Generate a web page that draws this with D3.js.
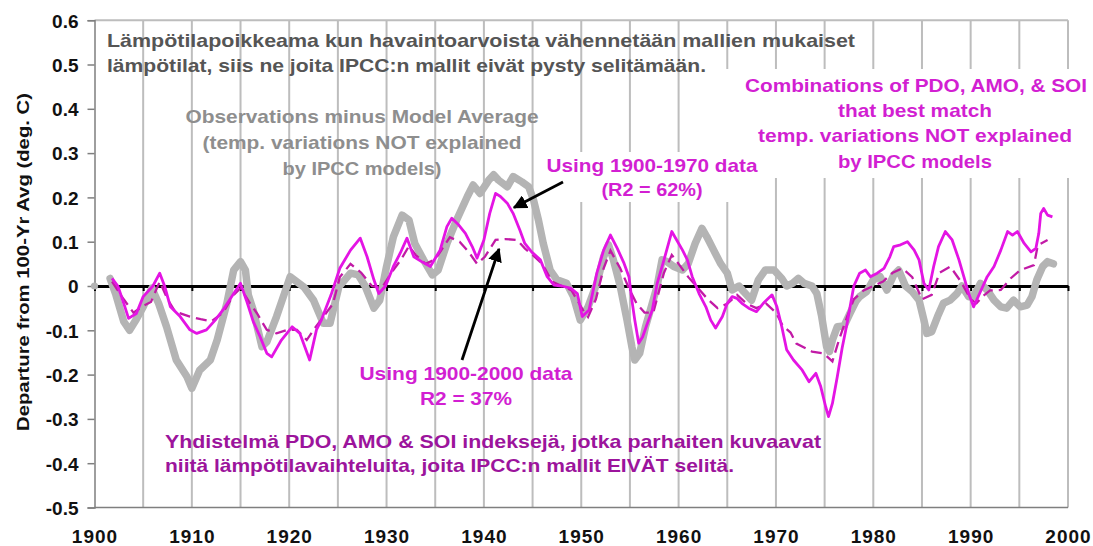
<!DOCTYPE html>
<html><head><meta charset="utf-8">
<script src="https://cdn.jsdelivr.net/npm/d3@7"></script>
<style>
html,body{margin:0;padding:0;background:#fff;}
text{font-family:"Liberation Sans",Arial,sans-serif;font-weight:bold;}
</style></head>
<body>
<svg id="chart" width="1093" height="546"></svg>
<script>
// ---------------- DATA ----------------
// Observations minus Model Average (grey)
const obsYear = [1901.6,1902.2,1903.0,1903.6,1904.3,1905.0,1905.9,1906.6,1907.4,1908.4,1909.5,1910.0,1910.8,1911.9,1912.6,1913.6,1914.3,1915.0,1915.5,1915.8,1916.3,1917.2,1917.7,1918.7,1919.4,1920.1,1921.5,1922.5,1923.5,1924.2,1925.1,1926.3,1927.1,1927.8,1928.7,1929.3,1930.0,1930.7,1931.6,1932.3,1932.9,1933.8,1934.7,1935.3,1936.2,1937.2,1938.3,1938.9,1939.6,1940.5,1941.0,1941.5,1942.4,1943.0,1943.9,1944.6,1945.1,1945.6,1946.1,1946.8,1947.5,1948.5,1949.2,1949.9,1950.7,1951.6,1952.3,1952.8,1953.3,1954.0,1954.7,1955.2,1955.5,1956.0,1956.6,1957.1,1957.8,1958.3,1958.8,1959.5,1960.4,1961.0,1961.7,1962.4,1962.9,1963.6,1964.3,1965.0,1965.5,1966.2,1966.7,1967.5,1968.2,1968.9,1969.8,1970.6,1971.1,1971.7,1972.3,1972.9,1973.7,1974.2,1974.7,1975.2,1975.5,1975.8,1976.3,1977.0,1977.6,1978.2,1978.6,1979.3,1980.0,1980.7,1981.4,1982.1,1982.6,1983.3,1984.0,1984.7,1985.2,1985.5,1986.0,1986.6,1987.2,1987.9,1988.6,1989.1,1989.8,1990.3,1991.0,1991.7,1992.4,1993.1,1993.7,1994.4,1995.1,1995.8,1996.3,1996.8,1997.4,1997.9,1998.5];
const obsDep = [0.017,-0.02,-0.08,-0.10,-0.075,-0.047,-0.005,-0.04,-0.092,-0.167,-0.205,-0.231,-0.19,-0.167,-0.122,-0.039,0.036,0.055,0.036,-0.02,-0.054,-0.137,-0.126,-0.069,-0.024,0.021,-0.002,-0.032,-0.084,-0.084,-0.002,0.029,0.025,0.0,-0.05,-0.032,0.044,0.111,0.16,0.149,0.096,0.059,0.025,0.036,0.096,0.149,0.202,0.228,0.209,0.239,0.251,0.239,0.224,0.247,0.235,0.224,0.194,0.149,0.096,0.036,0.014,0.006,-0.024,-0.077,-0.047,0.006,0.066,0.093,0.059,0.0,-0.077,-0.137,-0.167,-0.152,-0.092,-0.054,0.0,0.059,0.055,0.044,0.036,0.051,0.096,0.13,0.111,0.081,0.051,0.029,-0.009,0.0,-0.013,-0.032,0.014,0.036,0.036,0.017,0.0,0.006,0.017,0.006,0.0,-0.017,-0.069,-0.137,-0.148,-0.122,-0.092,-0.09,-0.062,-0.035,-0.024,-0.013,0.014,0.021,-0.009,0.025,0.036,0.0,-0.013,-0.032,-0.077,-0.107,-0.103,-0.069,-0.039,-0.032,-0.017,0.0,-0.024,-0.024,0.006,-0.009,-0.032,-0.047,-0.05,-0.032,-0.047,-0.043,-0.024,0.014,0.044,0.055,0.05];
const obsStartYear = [1900];
const obsStartDep = [0];

// Combination of PDO, AMO & SOI fitted on 1900-1970 data (solid magenta)
const fit1970Year = [1901.8,1902.4,1903.0,1903.5,1904.3,1905.0,1906.0,1906.7,1907.2,1907.8,1908.8,1909.8,1910.5,1911.5,1912.4,1913.2,1914.3,1915.0,1915.6,1916.3,1917.0,1917.7,1918.2,1919.2,1920.3,1921.1,1922.1,1922.8,1923.3,1924.3,1925.2,1926.3,1927.3,1928.0,1928.7,1929.2,1929.9,1930.7,1931.4,1932.1,1932.8,1933.6,1934.5,1935.5,1936.2,1936.7,1937.4,1938.1,1938.8,1939.3,1940.0,1940.6,1941.2,1941.7,1942.4,1943.0,1943.7,1944.2,1944.9,1945.8,1946.5,1947.2,1948.0,1948.9,1949.6,1950.1,1950.8,1951.6,1952.3,1953.0,1953.7,1954.4,1954.9,1955.2,1955.5,1955.9,1956.3,1956.8,1957.3,1957.8,1958.5,1959.3,1959.8,1960.4,1960.9,1961.4,1962.1,1962.8,1963.3,1963.8,1964.5,1965.0,1965.5,1966.0,1966.5,1967.2,1968.0,1968.7,1969.6,1970.1,1970.6,1971.1,1971.8,1972.7,1973.4,1974.1,1974.6,1975.1,1975.4,1975.8,1976.3,1976.8,1977.3,1978.0,1978.6,1979.2,1979.7,1980.4,1981.1,1981.7,1982.1,1982.8,1983.5,1984.2,1984.7,1985.2,1985.7,1986.2,1986.7,1987.4,1988.1,1988.8,1989.3,1989.8,1990.3,1991.0,1991.7,1992.4,1993.1,1993.8,1994.3,1994.8,1995.5,1996.2,1996.7,1997.0,1997.2,1997.5,1997.9,1998.4];
const fit1970Dep = [0.017,0.0,-0.039,-0.073,-0.062,-0.024,0.0,0.029,0.0,-0.047,-0.069,-0.099,-0.107,-0.099,-0.077,-0.054,-0.017,0.006,-0.032,-0.08,-0.114,-0.152,-0.16,-0.122,-0.092,-0.107,-0.167,-0.099,-0.077,-0.02,0.04,0.081,0.108,0.066,0.014,-0.017,0.0,0.044,0.074,0.108,0.066,0.055,0.044,0.081,0.134,0.153,0.138,0.119,0.089,0.063,0.104,0.164,0.209,0.202,0.187,0.164,0.126,0.096,0.077,0.059,0.021,0.002,0.0,-0.005,-0.017,-0.069,-0.054,0.029,0.081,0.115,0.085,0.051,0.021,-0.032,-0.077,-0.129,-0.115,-0.084,-0.054,0.006,0.059,0.123,0.104,0.081,0.059,0.021,-0.017,-0.047,-0.077,-0.095,-0.069,-0.039,-0.024,-0.028,-0.039,-0.05,-0.058,-0.039,-0.02,-0.047,-0.092,-0.144,-0.167,-0.19,-0.216,-0.197,-0.227,-0.272,-0.295,-0.265,-0.205,-0.14,-0.085,0.0,0.029,0.036,0.021,0.029,0.04,0.066,0.089,0.093,0.1,0.081,0.059,0.006,-0.009,0.044,0.089,0.123,0.104,0.059,0.021,-0.017,-0.047,-0.013,0.021,0.044,0.081,0.123,0.115,0.123,0.096,0.077,0.085,0.119,0.164,0.175,0.16,0.156];

// Combination fitted on 1900-2000 data (dashed)
const fit2000Year = [1901.8,1903.0,1904.0,1905.0,1905.8,1906.7,1907.5,1908.3,1909.8,1910.9,1912.0,1913.2,1914.3,1915.0,1916.0,1916.7,1917.7,1918.7,1919.8,1920.8,1921.8,1922.8,1923.5,1924.5,1925.2,1926.3,1927.4,1928.5,1929.5,1930.5,1931.5,1932.3,1933.0,1934.0,1935.0,1936.5,1937.5,1938.5,1939.3,1940.1,1941.2,1942.2,1943.4,1944.2,1945.0,1946.0,1947.0,1948.0,1949.0,1950.2,1950.7,1951.5,1952.3,1953.0,1954.0,1955.0,1955.7,1956.5,1957.4,1958.5,1959.3,1960.0,1961.0,1962.0,1963.0,1964.0,1965.0,1966.0,1967.0,1968.0,1969.0,1970.0,1970.7,1971.5,1972.1,1973.7,1974.9,1975.8,1976.5,1977.3,1978.0,1979.0,1980.0,1981.0,1982.0,1983.0,1984.0,1985.0,1986.0,1986.8,1987.9,1989.0,1990.0,1990.6,1991.2,1992.0,1993.1,1994.1,1995.1,1996.5,1996.9,1997.9];
const fit2000Dep = [0.01,-0.03,-0.06,-0.045,-0.036,0.01,-0.03,-0.058,-0.069,-0.075,-0.08,-0.06,-0.02,-0.005,-0.04,-0.062,-0.099,-0.107,-0.099,-0.099,-0.122,-0.09,-0.07,-0.04,0.02,0.05,0.03,0.0,-0.005,0.03,0.06,0.09,0.07,0.05,0.06,0.11,0.1,0.075,0.05,0.066,0.104,0.106,0.104,0.085,0.07,0.05,0.01,0.0,-0.01,-0.055,-0.07,-0.03,0.04,0.08,0.04,-0.01,-0.04,-0.06,-0.06,0.03,0.07,0.05,0.02,-0.005,-0.03,-0.05,-0.04,-0.02,-0.04,-0.05,-0.04,-0.06,-0.09,-0.105,-0.13,-0.148,-0.152,-0.17,-0.12,-0.07,-0.03,-0.01,0.0,0.01,0.03,0.04,0.02,-0.03,-0.02,0.03,0.044,0.01,-0.03,-0.039,-0.024,-0.01,-0.009,0.017,0.036,0.047,0.092,0.104];

const yTickValues = [0.6,0.5,0.4,0.3,0.2,0.1,0,-0.1,-0.2,-0.3,-0.4,-0.5];
const yTickLabels = ["0.6","0.5","0.4","0.3","0.2","0.1","0","-0.1","-0.2","-0.3","-0.4","-0.5"];
const xTickValues = [1900,1910,1920,1930,1940,1950,1960,1970,1980,1990,2000];
const xTickLabels = ["1900","1910","1920","1930","1940","1950","1960","1970","1980","1990","2000"];

// ---------------- CHART ----------------
const svg = d3.select("#chart");
const x = d3.scaleLinear().domain([1900,2000]).range([94.5,1068]);
const y = d3.scaleLinear().domain([-0.5,0.6]).range([507.5,20.2]);
const yTop = y(0.6), yBot = y(-0.5);

// vertical gridlines every 5 years
const gridYears = d3.range(1905, 2001, 5);
svg.append("g").selectAll("line").data(gridYears).join("line")
  .attr("x1", d => x(d)).attr("x2", d => x(d))
  .attr("y1", yTop).attr("y2", yBot)
  .attr("stroke", "#bdbdbd").attr("stroke-width", 2);
// top border
svg.append("line").attr("x1", x(1900)).attr("x2", x(2000)).attr("y1", yTop).attr("y2", yTop)
  .attr("stroke", "#bdbdbd").attr("stroke-width", 2);

// white label boxes that hide gridlines
svg.append("rect").attr("x", 718).attr("y", 69).attr("width", 362).attr("height", 109).attr("fill", "#fff");
svg.append("rect").attr("x", 543).attr("y", 152).attr("width", 219).attr("height", 50).attr("fill", "#fff");

// y axis
const yAxis = svg.append("g").attr("transform", `translate(${x(1900)},0)`)
  .call(d3.axisLeft(y).tickValues(yTickValues).tickSize(7).tickPadding(9)
    .tickFormat((d,i) => yTickLabels[i]));
yAxis.select(".domain").attr("stroke", "#7f7f7f").attr("stroke-width", 1.5);
yAxis.selectAll(".tick line").attr("stroke", "#7f7f7f").attr("stroke-width", 1.5);
yAxis.selectAll("text").attr("font-size", 19).attr("fill", "#111").attr("dy", "0.36em")
  .style("font-family", "'Liberation Sans',Arial,sans-serif").style("font-weight", "bold");

// bottom border
svg.append("line").attr("x1", x(1900)).attr("x2", x(2000)).attr("y1", yBot).attr("y2", yBot)
  .attr("stroke", "#7f7f7f").attr("stroke-width", 1.5);

// x labels
const xAxis = svg.append("g").attr("transform", `translate(0,${yBot})`)
  .call(d3.axisBottom(x).tickValues(xTickValues).tickSize(0).tickFormat((d,i) => xTickLabels[i]));
xAxis.select(".domain").remove();
xAxis.selectAll("text").attr("y", 35.5).attr("dy", 0).attr("font-size", 19).attr("fill", "#111")
  .style("letter-spacing", "1px")
  .style("font-family", "'Liberation Sans',Arial,sans-serif").style("font-weight", "bold");

// zero line with ticks
const zeroAxis = svg.append("g").attr("transform", `translate(0,${y(0)})`)
  .call(d3.axisBottom(x).tickValues(d3.range(1900, 2001, 5)).tickSize(5).tickSizeOuter(0).tickFormat(""));
zeroAxis.select(".domain").attr("stroke", "#000").attr("stroke-width", 3);
zeroAxis.selectAll(".tick line").attr("stroke", "#000").attr("stroke-width", 2);

// series
const mk = (xs, ys) => xs.map((v,i) => [v, ys[i]]);
const line = d3.line().x(d => x(d[0])).y(d => y(d[1]));

svg.append("path").datum(mk(obsYear, obsDep)).attr("d", line)
  .attr("fill", "none").attr("stroke", "#b4b4b4").attr("stroke-width", 7.5)
  .attr("stroke-linejoin", "round").attr("stroke-linecap", "round");
svg.append("g").selectAll("circle").data(mk(obsStartYear, obsStartDep)).join("circle")
  .attr("cx", d => x(d[0])).attr("cy", d => y(d[1])).attr("r", 3.6).attr("fill", "#b4b4b4");

svg.append("path").datum(mk(fit2000Year, fit2000Dep)).attr("d", line)
  .attr("fill", "none").attr("stroke", "#c21aa6").attr("stroke-width", 2.3)
  .attr("stroke-dasharray", "11,6");

svg.append("path").datum(mk(fit1970Year, fit1970Dep)).attr("d", line)
  .attr("fill", "none").attr("stroke", "#e414e4").attr("stroke-width", 2.8)
  .attr("stroke-linejoin", "round");

// arrows
const defs = svg.append("defs");
defs.append("marker").attr("id", "ah").attr("viewBox", "0 0 10 10").attr("refX", 9).attr("refY", 5)
  .attr("markerWidth", 5).attr("markerHeight", 5).attr("markerUnits", "strokeWidth").attr("orient", "auto")
  .append("path").attr("d", "M0,0 L10,5 L0,10 Z").attr("fill", "#000");
svg.append("line").attr("x1", 563).attr("y1", 182).attr("x2", 514).attr("y2", 207.5)
  .attr("stroke", "#000").attr("stroke-width", 2.8).attr("marker-end", "url(#ah)");
svg.append("line").attr("x1", 462).attr("y1", 360).attr("x2", 499).attr("y2", 249)
  .attr("stroke", "#000").attr("stroke-width", 2.8).attr("marker-end", "url(#ah)");

// texts
function txt(s, xx, yy, size, color, anchor, len) {
  const t = svg.append("text").attr("x", xx).attr("y", yy).attr("font-size", size)
    .attr("fill", color).attr("text-anchor", anchor).text(s);
  if (len) t.attr("textLength", len).attr("lengthAdjust", "spacingAndGlyphs");
  return t;
}
const fin = "#555555", grey = "#8e8e8e", mag = "#d21fd2", pur = "#9c149c";
txt("Lämpötilapoikkeama kun havaintoarvoista vähennetään mallien mukaiset", 107, 47, 19, fin, "start", 748);
txt("lämpötilat, siis ne joita IPCC:n mallit eivät pysty selitämään.", 107, 72, 19, fin, "start", 599);

txt("Observations minus Model Average", 362, 123, 19, grey, "middle", 353);
txt("(temp. variations NOT explained", 362, 149, 19, grey, "middle", 319);
txt("by IPCC models)", 362, 175, 19, grey, "middle", 159);

txt("Using 1900-1970 data", 652, 172, 19, mag, "middle", 211);
txt("(R2 = 62%)", 652, 196, 19, mag, "middle", 101);

txt("Combinations of PDO, AMO, & SOI", 916, 92, 19, mag, "middle", 342);
txt("that best match", 915, 117, 19, mag, "middle", 154);
txt("temp. variations NOT explained", 915, 142, 19, mag, "middle", 314);
txt("by IPCC models", 915, 168, 19, mag, "middle", 154);

txt("Using 1900-2000 data", 466, 380, 19, mag, "middle", 213);
txt("R2 = 37%", 466, 405, 19, mag, "middle", 92);

txt("Yhdistelmä PDO, AMO & SOI indeksejä, jotka parhaiten kuvaavat", 165, 448, 19, pur, "start", 656);
txt("niitä lämpötilavaihteluita, joita IPCC:n mallit EIVÄT selitä.", 165, 472, 19, pur, "start", 569);

svg.append("text").attr("transform", "translate(29,262) rotate(-90)")
  .attr("text-anchor", "middle").attr("font-size", 17).attr("fill", "#111")
  .attr("textLength", 338).attr("lengthAdjust", "spacingAndGlyphs")
  .text("Departure from 100-Yr Avg (deg. C)");
</script>
</body></html>
